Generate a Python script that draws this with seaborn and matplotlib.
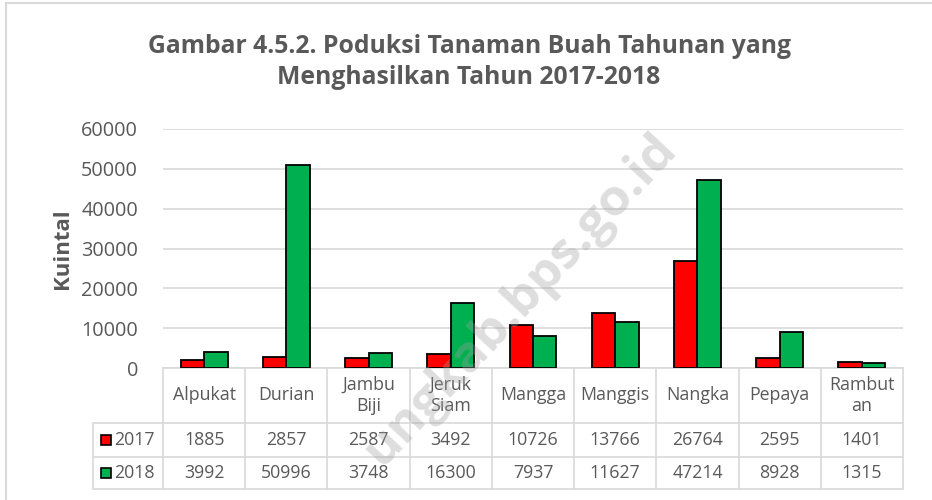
import matplotlib
matplotlib.use("Agg")
import matplotlib.pyplot as plt
import seaborn as sns
import pandas as pd
from matplotlib.lines import Line2D
from matplotlib.patches import Rectangle

categories = ["Alpukat", "Durian", "Jambu\nBiji", "Jeruk\nSiam", "Mangga",
              "Manggis", "Nangka", "Pepaya", "Rambut\nan"]
series_names = ["2017", "2018"]
values_2017 = [1885, 2857, 2587, 3492, 10726, 13766, 26764, 2595, 1401]
values_2018 = [3992, 50996, 3748, 16300, 7937, 11627, 47214, 8928, 1315]
yticks = [0, 10000, 20000, 30000, 40000, 50000, 60000]
title = "Gambar 4.5.2. Poduksi Tanaman Buah Tahunan yang\nMenghasilkan Tahun 2017-2018"
ylabel = "Kuintal"
watermark = "ungkab.bps.go.id"
colors = {"2017": "#FF0000", "2018": "#00B050"}

df = pd.DataFrame({
    "Buah": categories * 2,
    "Tahun": ["2017"] * len(categories) + ["2018"] * len(categories),
    "Nilai": values_2017 + values_2018,
})

sns.set_theme(style="white")
plt.rcParams["font.family"] = ["Open Sans", "DejaVu Sans"]
TXT = "#595959"
GRID = "#D9D9D9"

W, H = 932, 500
fig = plt.figure(figsize=(W / 100, H / 100), dpi=100)
ax = fig.add_axes([163 / W, 1 - 368 / H, (903 - 163) / W, (368 - 129) / H])

sns.barplot(data=df, x="Buah", y="Nilai", hue="Tahun", order=categories,
            hue_order=series_names, palette=colors, saturation=1,
            edgecolor="black", linewidth=1.3, width=0.57, ax=ax,
            legend=False, zorder=3)

ax.set_xlim(-0.5, len(categories) - 0.5)
ax.set_ylim(0, 60000)
ax.set_yticks(yticks)
ax.set_yticklabels([str(v) for v in yticks], color=TXT, fontsize=14.3)
ax.tick_params(axis="y", length=0, pad=18)
ax.set_xticks([])
ax.set_xlabel("")
ax.set_ylabel(ylabel, color=TXT, fontsize=16, fontweight="bold", labelpad=6)
ax.yaxis.grid(True, color=GRID, linewidth=1.2, zorder=0)
for s in ["top", "right", "left"]:
    ax.spines[s].set_visible(False)
ax.spines["bottom"].set_color(GRID)
ax.spines["bottom"].set_linewidth(1.2)

# ---- data table ----
ax_h = 368 - 129
y_hdr = -(423 - 368) / ax_h
y_r1 = -(457 - 368) / ax_h
y_r2 = -(489 - 368) / ax_h
cat_w = (903 - 163) / len(categories)
x_left = -0.5 - (163 - 93) / cat_w
x_right = len(categories) - 0.5
tr = ax.get_xaxis_transform()

def line(xs, ys):
    ax.add_line(Line2D(xs, ys, transform=tr, color=GRID, lw=1.2, clip_on=False))

for yy in [y_hdr, y_r1, y_r2]:
    line([x_left, x_right], [yy, yy])
for i in range(len(categories) + 1):
    xb = i - 0.5
    line([xb, xb], [0, y_r2])
line([x_left, x_left], [y_hdr, y_r2])

for i, c in enumerate(categories):
    ax.text(i, y_hdr / 2, c, transform=tr, ha="center", va="center",
            color=TXT, fontsize=12.8, linespacing=1.2)
    ax.text(i, (y_hdr + y_r1) / 2, str(values_2017[i]), transform=tr,
            ha="center", va="center", color=TXT, fontsize=12.8)
    ax.text(i, (y_r1 + y_r2) / 2, str(values_2018[i]), transform=tr,
            ha="center", va="center", color=TXT, fontsize=12.8)

for name, yc in zip(series_names, [(y_hdr + y_r1) / 2, (y_r1 + y_r2) / 2]):
    sq = 10 / ax_h
    ax.add_patch(Rectangle((x_left + 8 / cat_w, yc - sq / 2), 10 / cat_w, sq,
                           transform=tr, facecolor=colors[name],
                           edgecolor="black", lw=1.2, clip_on=False))
    ax.text(x_left + 21 / cat_w, yc, name, transform=tr, ha="left",
            va="center", color=TXT, fontsize=12.8)

# ---- title ----
fig.text(469 / W, 1 - 62 / H, title, ha="center", va="center", color=TXT,
         fontsize=17.8, fontweight="bold", linespacing=1.3)

# ---- watermark ----
fig.text(520 / W, 1 - 300 / H, watermark, ha="center", va="center",
         rotation=47, rotation_mode="anchor", color="#A0A0A0", alpha=0.35,
         fontsize=37, fontweight="bold", zorder=10)

# ---- chart border ----
fig.add_artist(Line2D([6 / W, 6 / W], [0, 1 - 3 / H], transform=fig.transFigure,
                      color=GRID, lw=1.5))
fig.add_artist(Line2D([6 / W, 1], [1 - 3 / H, 1 - 3 / H], transform=fig.transFigure,
                      color=GRID, lw=1.5))

fig.savefig("out.png", dpi=100, facecolor="white")
